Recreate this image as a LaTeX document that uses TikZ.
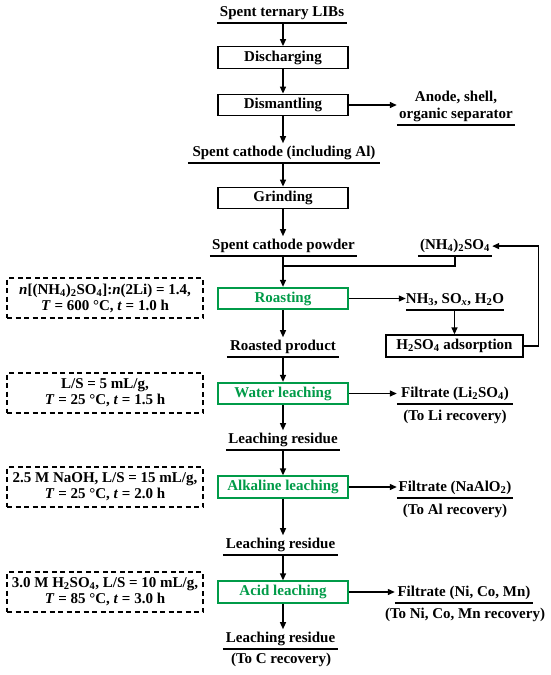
\documentclass[tikz,border=0pt]{standalone}
\usepackage{fontspec}
\setmainfont{Liberation Serif}
\usetikzlibrary{arrows.meta}
\definecolor{procgreen}{RGB}{0,155,72}
\begin{document}
\begin{tikzpicture}[x=1pt,y=-1pt,
  every node/.style={font=\fontsize{15}{17}\selectfont\bfseries},
  pbox/.style={draw, line width=1.3pt, minimum width=130pt, minimum height=21.5pt, inner sep=0pt},
  gbox/.style={pbox, draw=procgreen, text=procgreen, line width=1.8pt},
  dbox/.style={draw, line width=1.3pt, dash pattern=on 5pt off 3.5pt, minimum width=196pt, minimum height=40pt, inner sep=0pt, align=center, font=\fontsize{15}{16}\selectfont\bfseries},
  ul/.style={anchor=south, inner xsep=0pt, inner ysep=3pt, text depth=3pt, align=center,
    append after command={(\tikzlastnode.south west) edge[line width=1.3pt] (\tikzlastnode.south east)}},
  plain/.style={inner sep=0pt},
  arr/.style={line width=1.3pt, -{Triangle[length=7pt,width=6pt]}},
  ln/.style={line width=1.3pt}]
\useasboundingbox[fill=white] (0,0) rectangle (550,675);

% main column
\node[ul, minimum width=130pt] (libs) at (282,23) {Spent ternary LIBs};
\node[pbox] (dis) at (283,57.5) {Discharging};
\node[pbox] (dsm) at (283,105) {Dismantling};
\node[ul, minimum width=118pt] (anode) at (456,125) {Anode, shell,\\organic separator};
\node[ul, minimum width=192pt] (cath) at (284,163) {Spent cathode (including Al)};
\node[pbox] (grind) at (283,198) {Grinding};
\node[ul, minimum width=147pt] (powder) at (283.5,256) {Spent cathode powder};
\node[ul, minimum width=74pt] (nh4) at (455,256) {(NH\textsubscript{4})\textsubscript{2}SO\textsubscript{4}};
\coordinate (j) at (283,266);
\node[gbox] (roast) at (283,298.5) {Roasting};
\node[ul, minimum width=96pt] (nh3) at (455,310) {NH\textsubscript{3}, SO\textsubscript{\itshape x}, H\textsubscript{2}O};
\node[pbox, minimum width=137pt, minimum height=22pt] (ads) at (454.5,346) {H\textsubscript{2}SO\textsubscript{4} adsorption};
\node[ul, minimum width=112pt] (roasted) at (283,357) {Roasted product};
\node[gbox] (water) at (283,393.5) {Water leaching};
\node[ul, minimum width=116pt] (filLi) at (455,404) {Filtrate (Li\textsubscript{2}SO\textsubscript{4})};
\node[plain] (toLi) at (455,417) {(To Li recovery)};
\node[ul, minimum width=114pt] (lr1) at (283,450) {Leaching residue};
\node[gbox] (alk) at (283,487) {Alkaline leaching};
\node[ul, minimum width=116pt] (filAl) at (455,498) {Filtrate (NaAlO\textsubscript{2})};
\node[plain] (toAl) at (455,511) {(To Al recovery)};
\node[ul, minimum width=115pt] (lr2) at (280.5,555) {Leaching residue};
\node[gbox] (acid) at (283,592) {Acid leaching};
\node[ul, minimum width=138pt] (filNi) at (464,603) {Filtrate (Ni, Co, Mn)};
\node[plain] (toNi) at (465,615) {(To Ni, Co, Mn recovery)};
\node[ul, minimum width=115pt] (lr3) at (280.5,649) {Leaching residue};
\node[plain] (toC) at (281,660) {(To C recovery)};

% condition boxes
\node[dbox] (d1) at (105,298) {\textit{n}[(NH\textsubscript{4})\textsubscript{2}SO\textsubscript{4}]:\textit{n}(2Li) = 1.4,\\\textit{T} = 600 °C, \textit{t} = 1.0 h};
\node[dbox] (d2) at (105,393) {L/S = 5 mL/g,\\\textit{T} = 25 °C, \textit{t} = 1.5 h};
\node[dbox] (d3) at (105,487) {2.5 M NaOH, L/S = 15 mL/g,\\\textit{T} = 25 °C, \textit{t} = 2.0 h};
\node[dbox] (d4) at (105,592) {3.0 M H\textsubscript{2}SO\textsubscript{4}, L/S = 10 mL/g,\\\textit{T} = 85 °C, \textit{t} = 3.0 h};

% connectors
\draw[arr] (libs.south -| dis) -- (dis.north);
\draw[arr] (dis.south) -- (dsm.north);
\draw[arr] (dsm.south) -- (dsm.south |- cath.north);
\draw[arr] (dsm.east) -- (dsm.east -| anode.west);
\draw[arr] (cath.south -| grind) -- (grind.north);
\draw[arr] (grind.south) -- (grind.south |- powder.north);
\draw[arr] (powder.south -| roast) -- (roast.north);
\draw[ln] (nh4.south) |- (j);
\draw[arr] (roast.east) -- (roast.east -| nh3.west);
\draw[arr] (nh3.south -| ads) -- (ads.north);
\draw[arr] (ads.east) -- ++(15,0) |- (nh4.east);
\draw[arr] (roast.south) -- (roast.south |- roasted.north);
\draw[arr] (roasted.south -| water) -- (water.north);
\draw[arr] (water.east) -- (water.east -| filLi.west);
\draw[arr] (water.south) -- (water.south |- lr1.north);
\draw[arr] (lr1.south -| alk) -- (alk.north);
\draw[arr] (alk.east) -- (alk.east -| filAl.west);
\draw[arr] (alk.south) -- (alk.south |- lr2.north);
\draw[arr] (lr2.south -| acid) -- (acid.north);
\draw[arr] (acid.east) -- (acid.east -| filNi.west);
\draw[arr] (acid.south) -- (acid.south |- lr3.north);
\end{tikzpicture}
\end{document}
